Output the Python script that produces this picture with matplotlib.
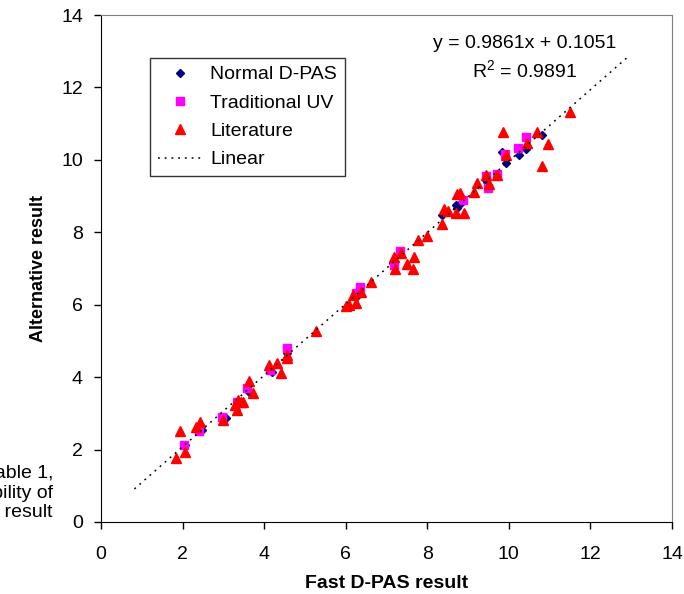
import numpy as np
from matplotlib import pyplot as plt

plt.rcParams["font.family"] = ["Liberation Sans", "DejaVu Sans"]
plt.rcParams["mathtext.fontset"] = "custom"
plt.rcParams["mathtext.rm"] = "Liberation Sans"

# Normal D-PAS (diamonds)
normal_x = [2.06, 2.47, 3.06, 3.63, 4.20, 4.55, 6.29, 7.15, 8.37, 8.70, 8.74, 8.82,
            9.45, 9.84, 9.93, 10.25, 10.43, 10.82]
normal_y = [2.12, 2.54, 2.86, 3.60, 4.15, 4.66, 6.27, 7.15, 8.48, 8.76, 8.67, 8.80,
            9.43, 10.23, 9.91, 10.14, 10.30, 10.69]

# Traditional UV (squares)
uv_x = [2.04, 2.41, 2.97, 3.33, 3.59, 4.14, 4.55, 6.25, 6.35, 7.19, 7.33, 8.88,
        9.44, 9.50, 9.70, 9.91, 10.23, 10.42]
uv_y = [2.13, 2.51, 2.91, 3.32, 3.69, 4.20, 4.80, 6.32, 6.50, 7.10, 7.47, 8.88,
        9.56, 9.22, 9.61, 10.16, 10.34, 10.62]

# Literature (triangles)
lit_x = [1.85, 1.94, 2.07, 2.33, 2.43, 2.98, 3.29, 3.33, 3.37, 3.43, 3.47, 3.62,
         3.72, 4.12, 4.32, 4.41, 4.57, 4.55, 5.27, 6.00, 6.09, 6.25, 6.19, 6.37,
         6.62, 7.19, 7.35, 7.21, 7.51, 7.66, 7.68, 7.78, 8.00, 8.35, 8.41, 8.52,
         8.70, 8.89, 8.74, 8.80, 9.15, 9.23, 9.45, 9.52, 9.72, 9.93, 9.86, 10.44,
         10.70, 10.97, 10.81, 11.50]
lit_y = [1.76, 2.52, 1.94, 2.63, 2.77, 2.82, 3.23, 3.09, 3.37, 3.30, 3.32, 3.88,
         3.55, 4.34, 4.38, 4.11, 4.61, 4.52, 5.28, 5.97, 6.00, 6.06, 6.27, 6.36,
         6.64, 7.33, 7.42, 6.98, 7.13, 6.98, 7.33, 7.78, 7.90, 8.23, 8.64, 8.60,
         8.54, 8.53, 9.06, 9.08, 9.10, 9.37, 9.59, 9.33, 9.59, 10.14, 10.77, 10.46,
         10.78, 10.44, 9.83, 11.32]

slope = 0.9861
intercept = 0.1051
r2 = 0.9891
fit_x = np.array([0.82, 12.92])

fig = plt.figure(figsize=(6.84, 5.94), dpi=100)
ax = fig.add_axes([101 / 684, 1 - 522 / 594, 571 / 684, 507 / 594])

ax.plot(normal_x, normal_y, "D", color="#000080", ms=4.5, ls="none", label="Normal D-PAS", zorder=3)
ax.plot(uv_x, uv_y, "s", color="#FF00FF", ms=5.5, ls="none", label="Traditional UV", zorder=3)
ax.plot(lit_x, lit_y, "^", color="#FF0000", ms=7.5, ls="none", label="Literature", zorder=3)
ax.plot(fit_x, slope * fit_x + intercept, color="black", lw=1.1, ls=(0, (1.2, 3.2)),
        label="Linear", zorder=4)

ax.set_xlim(0, 14)
ax.set_ylim(0, 14)
ax.set_xticks(range(0, 15, 2))
ax.set_yticks(range(0, 15, 2))
ax.tick_params(direction="out", length=5, width=1, labelsize=14)
ax.tick_params(axis="x", pad=12)
ax.tick_params(axis="y", pad=8)
for s in ["top", "right"]:
    ax.spines[s].set_color("#808080")
for s in ["left", "bottom"]:
    ax.spines[s].set_color("black")

ax.set_xlabel("Fast D-PAS result", fontsize=14, fontweight="bold", labelpad=9)
ax.set_ylabel("Alternative result", fontsize=13, fontweight="bold", labelpad=10)

ax.text(525 / 684, 1 - 43 / 594, "y = 0.9861x + 0.1051", transform=fig.transFigure,
        ha="center", va="center", fontsize=14)
ax.text(525 / 684, 1 - 71 / 594, "R$^{2}$ = %.4f" % r2, transform=fig.transFigure,
        ha="center", va="center", fontsize=14)

# text box cut off at the left edge of the picture
fig.text(53 / 684, 1 - 493 / 594, "Table 1,\nreliability of\nthe result", ha="right",
         va="center", multialignment="right", fontsize=14, linespacing=1.2)

leg = ax.legend(loc="upper left", bbox_to_anchor=((150 - 101) / 571, (522 - 58) / 507),
                borderaxespad=0, fontsize=14, frameon=True, fancybox=False,
                edgecolor="black", handlelength=2.3, handletextpad=0.4,
                labelspacing=0.55, borderpad=0.4, numpoints=1)
leg.get_frame().set_linewidth(1)

fig.savefig("out.png", dpi=100)
